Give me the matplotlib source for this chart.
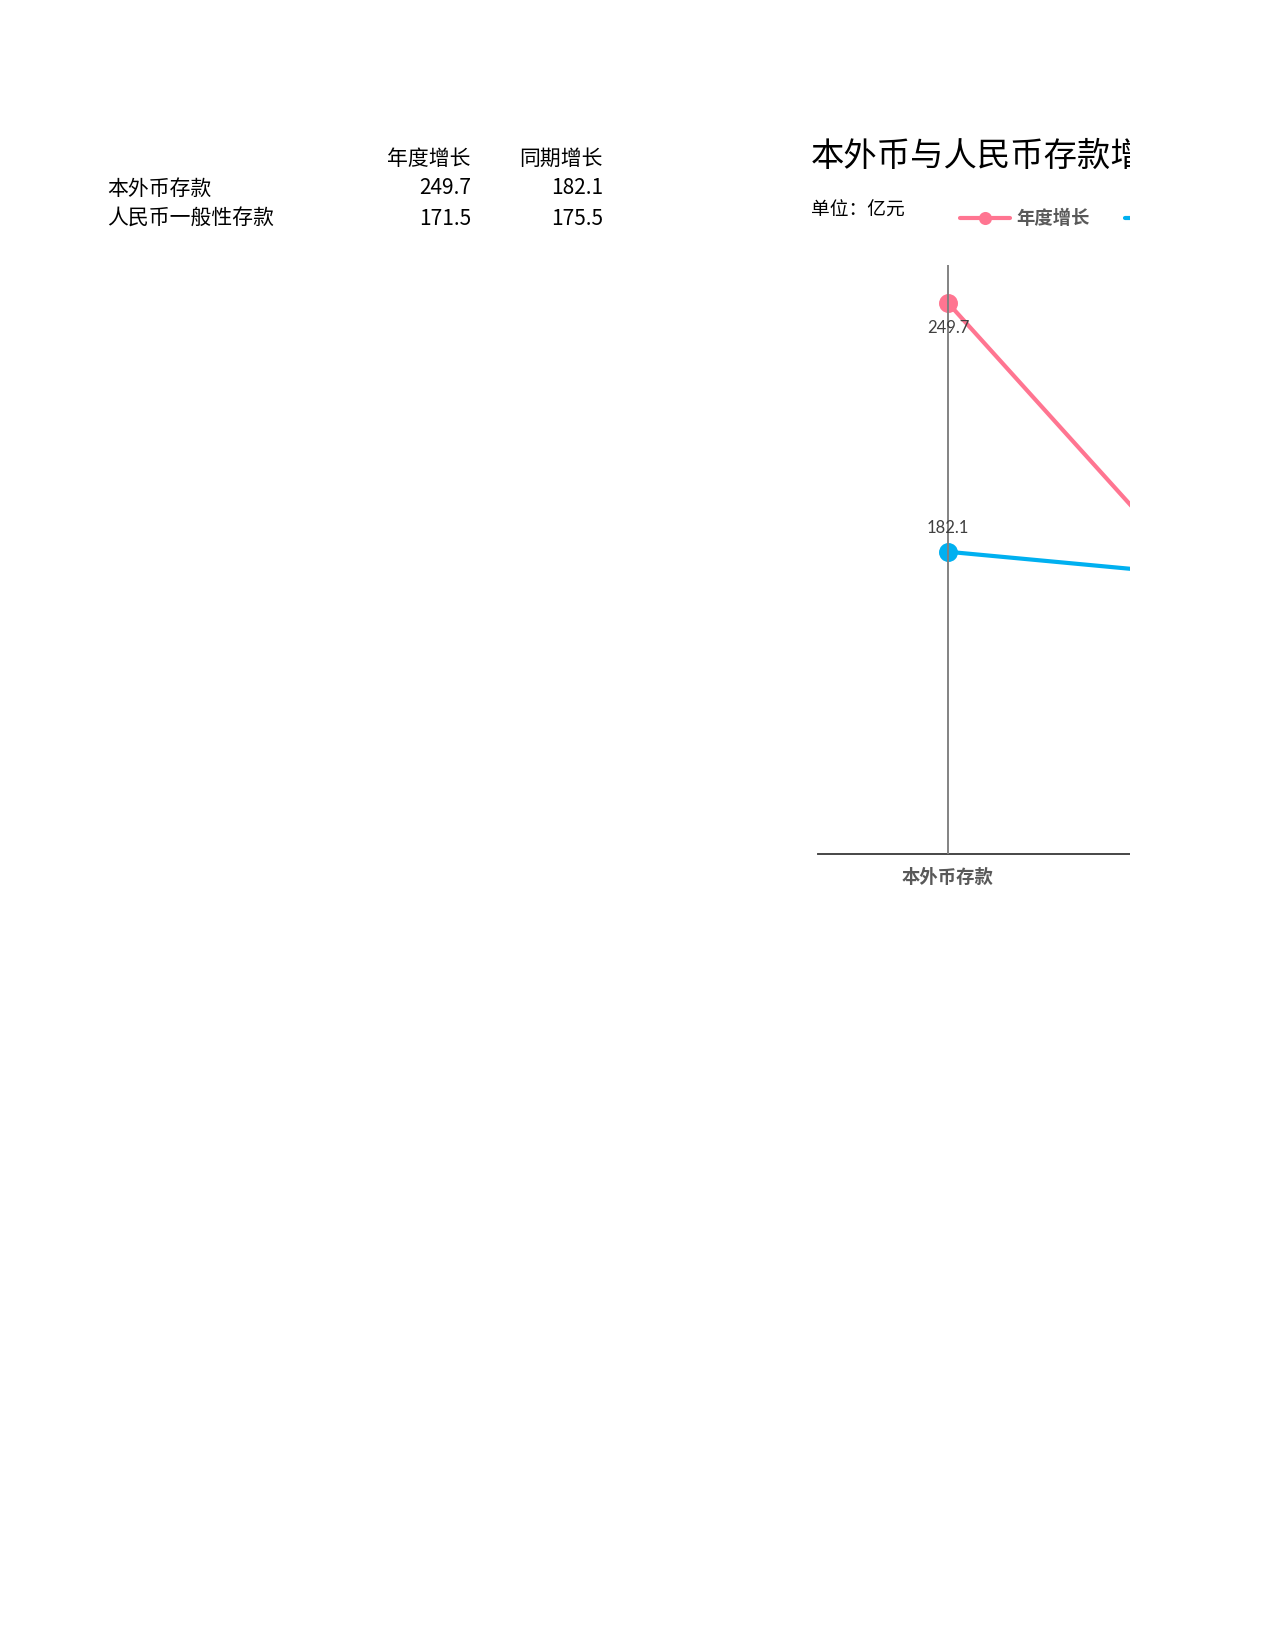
import matplotlib
matplotlib.use("Agg")
import matplotlib.pyplot as plt
from matplotlib.patches import Rectangle

plt.rcParams['font.family'] = ['Noto Sans CJK SC', 'DejaVu Sans']

categories = ["本外币存款", "人民币一般性存款"]
series_names = ["年度增长", "同期增长"]
annual_growth = [249.7, 171.5]
period_growth = [182.1, 175.5]
series_colors = ["#FF7591", "#00B0F0"]
title = "本外币与人民币存款增长"
unit_text = "单位：亿元"

W, H, DPI = 1275, 1650, 150
fig = plt.figure(figsize=(W / DPI, H / DPI), dpi=DPI)
fig.patch.set_facecolor("white")


def fx(x):
    return x / W


def fy(y):
    return 1 - y / H


# ---- table at top left ----
tfs = 10.0
col_r = [471, 603]
fig.text(fx(col_r[0]), fy(159), series_names[0], ha="right", va="center", fontsize=tfs, color="black")
fig.text(fx(col_r[1]), fy(159), series_names[1], ha="right", va="center", fontsize=tfs, color="black")
row_y = [188.5, 219]
for i, cat in enumerate(categories):
    fig.text(fx(107), fy(row_y[i]), cat, ha="left", va="center", fontsize=tfs, color="black")
    fig.text(fx(col_r[0]), fy(row_y[i]), f"{annual_growth[i]:.1f}", ha="right", va="center",
             fontsize=tfs, color="black")
    fig.text(fx(col_r[1]), fy(row_y[i]), f"{period_growth[i]:.1f}", ha="right", va="center",
             fontsize=tfs, color="black")

# ---- chart ----
left, top, bottom = 818, 265, 854
cat_w = 260
right = left + cat_w * len(categories)
ax = fig.add_axes([fx(left), fy(bottom), fx(right - left), (bottom - top) / H])
ax.set_facecolor("none")
x = list(range(len(categories)))
l1, = ax.plot(x, annual_growth, color=series_colors[0], lw=2.0, marker="o", ms=8.1,
              solid_capstyle="round", zorder=3, label=series_names[0])
l2, = ax.plot(x, period_growth, color=series_colors[1], lw=2.0, marker="o", ms=8.1,
              solid_capstyle="round", zorder=3, label=series_names[1])
ax.set_xlim(-0.5, len(categories) - 0.5)
ax.set_ylim(100, 260)
ax.axvline(0, color="#7F7F7F", lw=0.9, zorder=4)
for s in ["top", "right", "left"]:
    ax.spines[s].set_visible(False)
ax.spines["bottom"].set_color("#404040")
ax.spines["bottom"].set_linewidth(0.9)
ax.set_yticks([])
ax.set_xticks(x)
ax.set_xticklabels(categories, fontsize=8.8, fontweight="bold", color="#595959")
ax.tick_params(axis="x", length=0, pad=6.5)

for i in x:
    ax.annotate(f"{annual_growth[i]:.1f}", (i, annual_growth[i]), xytext=(0, -12),
                textcoords="offset points", ha="center", va="center", fontsize=8.0,
                color="#404040", family=["Lato", "DejaVu Sans"], zorder=5)
    ax.annotate(f"{period_growth[i]:.1f}", (i, period_growth[i]), xytext=(0, 11.5),
                textcoords="offset points", ha="center", va="center", fontsize=8.0,
                color="#404040", family=["Lato", "DejaVu Sans"], zorder=5)

fig.text(fx(811), fy(156), title, ha="left", va="center", fontsize=16, color="black")
fig.text(fx(811), fy(210), unit_text, ha="left", va="center", fontsize=9.0, color="black")

leg = ax.legend(handles=[l1, l2], loc="center left", bbox_to_anchor=(fx(951), fy(219)),
                bbox_transform=fig.transFigure, ncol=2, frameon=False, borderpad=0,
                handlelength=2.73, handletextpad=0.33, columnspacing=1.9, markerscale=0.65,
                prop={"size": 8.8, "weight": "bold"})
for t in leg.get_texts():
    t.set_color("#595959")

# page boundary: the chart is cut off at the printed page edge
fig.patches.append(Rectangle((fx(1130), fy(940)), 1 - fx(1130), (940 - 90) / H,
                             transform=fig.transFigure, facecolor="white",
                             edgecolor="none", zorder=100))

fig.savefig("out.png", dpi=DPI, facecolor="white")
